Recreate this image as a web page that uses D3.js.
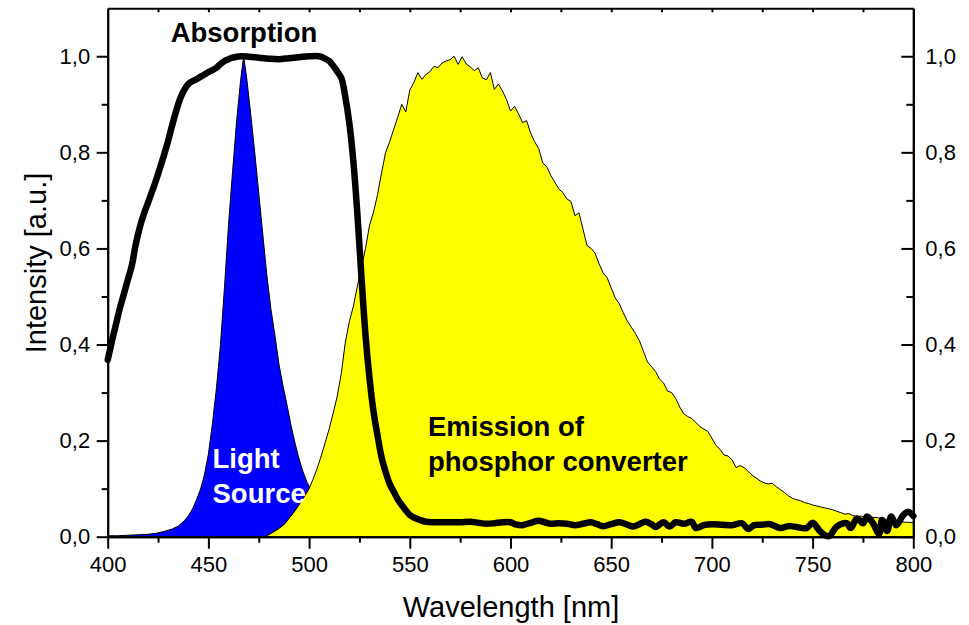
<!DOCTYPE html>
<html>
<head>
<meta charset="utf-8">
<script src="https://cdn.jsdelivr.net/npm/d3@7"></script>
<style>
  body { margin: 0; background: #fff; }
  svg { display: block; }
  text { font-family: "Liberation Sans", Arial, sans-serif; }
</style>
</head>
<body>
<svg id="chart" width="969" height="625"></svg>
<script>
// ---- Data -------------------------------------------------------------
const wavelengthTicks = [400, 450, 500, 550, 600, 650, 700, 750, 800];
const wavelengthMinor = [425, 475, 525, 575, 625, 675, 725, 775];
const topTicks = [425, 450, 475, 500, 525, 550, 575, 600, 625, 650, 675, 700, 725, 750, 775];
const intensityTicks = [0, 0.2, 0.4, 0.6, 0.8, 1.0];
const intensityMinor = [0.1, 0.3, 0.5, 0.7, 0.9];

// Blue LED light source
const sourceWl = [400, 405, 410, 415, 420, 424, 428, 432, 435, 438, 440, 442, 444, 446, 448, 450,
  452, 454, 456, 458, 460, 462, 464, 466, 467.5, 469, 471, 473, 475, 477, 479, 481, 483, 485, 487,
  489, 491, 493, 495, 497, 499, 501, 504, 508, 512, 516, 520, 530, 540, 560, 600, 700, 800];
const sourceVal = [0.002, 0.002, 0.003, 0.004, 0.005, 0.007, 0.011, 0.016, 0.022, 0.033, 0.043, 0.057,
  0.076, 0.098, 0.128, 0.172, 0.235, 0.31, 0.40, 0.52, 0.65, 0.76, 0.865, 0.95, 1.0, 0.955, 0.88,
  0.80, 0.715, 0.63, 0.545, 0.475, 0.42, 0.36, 0.315, 0.275, 0.232, 0.195, 0.162, 0.135, 0.113,
  0.097, 0.075, 0.055, 0.04, 0.03, 0.022, 0.012, 0.007, 0.003, 0.001, 0, 0];

// Phosphor converter emission
const emissionWl = [478, 480, 482, 484, 486, 488, 490, 492, 494, 496, 498, 500, 502, 504, 506, 508,
  510, 512, 514, 516, 518, 520, 522, 524, 526, 528, 530, 532, 534, 536, 538, 540, 542, 544, 546, 548,
  550, 552, 554, 556, 558, 560, 562, 564, 566, 568, 570, 572, 574, 576, 578, 580, 582, 584, 586, 588,
  590, 592, 594, 596, 598, 600, 602, 604, 606, 608, 610, 612, 614, 616, 618, 620, 622, 624, 626, 628,
  630, 632, 634, 636, 638, 640, 642, 644, 646, 648, 650, 652, 654, 656, 658, 660, 662, 664, 666, 668,
  670, 672, 674, 676, 678, 680, 682, 684, 686, 688, 690, 692, 694, 696, 698, 700, 702, 704, 706, 708,
  710, 712, 714, 716, 718, 720, 722, 724, 726, 728, 730, 732, 734, 736, 738, 740, 742, 744, 746, 748,
  750, 752, 754, 756, 758, 760, 762, 764, 766, 768, 770, 772, 774, 776, 778, 780, 782, 784, 786, 788,
  790, 792, 794, 796, 798, 800];
const emissionVal = [0.0, 0.004, 0.009, 0.014, 0.020, 0.027, 0.038, 0.048, 0.060, 0.073, 0.086, 0.100,
  0.120, 0.142, 0.168, 0.196, 0.225, 0.258, 0.293, 0.340, 0.405, 0.448, 0.480, 0.522, 0.560, 0.600,
  0.648, 0.676, 0.712, 0.758, 0.800, 0.822, 0.848, 0.873, 0.900, 0.884, 0.930, 0.945, 0.966, 0.952,
  0.962, 0.968, 0.979, 0.976, 0.986, 0.990, 0.993, 1.000, 0.983, 0.999, 0.984, 0.978, 0.970, 0.976,
  0.955, 0.951, 0.966, 0.931, 0.942, 0.928, 0.910, 0.886, 0.896, 0.880, 0.862, 0.866, 0.840, 0.822,
  0.808, 0.778, 0.770, 0.752, 0.738, 0.724, 0.716, 0.703, 0.698, 0.668, 0.674, 0.640, 0.606, 0.600,
  0.590, 0.568, 0.549, 0.539, 0.518, 0.497, 0.485, 0.466, 0.449, 0.436, 0.423, 0.408, 0.386, 0.364,
  0.354, 0.344, 0.328, 0.320, 0.303, 0.300, 0.288, 0.270, 0.256, 0.250, 0.246, 0.238, 0.229, 0.224,
  0.219, 0.205, 0.190, 0.182, 0.170, 0.168, 0.160, 0.144, 0.148, 0.144, 0.136, 0.128, 0.122, 0.116,
  0.112, 0.110, 0.111, 0.104, 0.098, 0.092, 0.085, 0.080, 0.077, 0.075, 0.071, 0.069, 0.066, 0.064,
  0.062, 0.060, 0.058, 0.056, 0.053, 0.050, 0.047, 0.048, 0.044, 0.042, 0.043, 0.041, 0.042, 0.040,
  0.040, 0.038, 0.036, 0.037, 0.033, 0.032, 0.031, 0.030, 0.030, 0.029];

// Absorption of the phosphor
const absorptionWl = [400, 402, 404, 406, 408, 410, 412, 414, 416, 418, 420, 422, 424, 426, 428, 430,
  432, 434, 436, 438, 440, 442, 444, 446, 448, 450, 452, 454, 456, 458, 460, 462, 464, 466, 470, 475,
  480, 485, 490, 495, 500, 505, 508, 510, 512, 514, 516, 518, 520, 522, 524, 526, 528, 530, 532, 534,
  536, 538, 540, 542, 544, 546, 548, 550, 552, 555, 558, 562, 566, 570, 575, 580, 584, 588, 592, 596,
  600, 603, 606, 610, 614, 617, 620, 624, 628, 632, 636, 640, 643, 646, 650, 654, 658, 661, 664, 667,
  670, 672, 676, 679, 682, 686, 690, 692, 696, 700, 705, 710, 715, 718, 721, 725, 729, 734, 738, 741,
  747, 750, 754, 758, 762, 767, 769, 772, 775, 777, 780, 783, 784.5, 787, 789, 791.5, 795, 797.5, 800];
const absorptionVal = [0.368, 0.405, 0.44, 0.475, 0.505, 0.535, 0.565, 0.61, 0.645, 0.672, 0.695, 0.718,
  0.742, 0.768, 0.795, 0.824, 0.856, 0.886, 0.912, 0.930, 0.942, 0.948, 0.952, 0.957, 0.962, 0.967,
  0.971, 0.976, 0.984, 0.990, 0.994, 0.997, 0.999, 1.0, 0.999, 0.997, 0.995, 0.994, 0.996, 0.998,
  1.0, 1.0, 0.995, 0.990, 0.980, 0.968, 0.955, 0.915, 0.86, 0.78, 0.67, 0.54, 0.42, 0.33, 0.26, 0.21,
  0.165, 0.135, 0.11, 0.094, 0.078, 0.066, 0.055, 0.045, 0.040, 0.035, 0.031, 0.030, 0.030, 0.030,
  0.030, 0.031, 0.029, 0.027, 0.028, 0.030, 0.030, 0.025, 0.024, 0.029, 0.033, 0.030, 0.027, 0.028,
  0.027, 0.024, 0.027, 0.030, 0.026, 0.022, 0.026, 0.030, 0.025, 0.021, 0.026, 0.031, 0.026, 0.020,
  0.030, 0.021, 0.030, 0.027, 0.031, 0.018, 0.024, 0.026, 0.025, 0.024, 0.028, 0.016, 0.024, 0.025,
  0.026, 0.018, 0.022, 0.021, 0.018, 0.029, 0.010, 0.001, 0.021, 0.028, 0.018, 0.038, 0.028, 0.042,
  0.028, 0.006, 0.035, 0.012, 0.042, 0.024, 0.045, 0.052, 0.043];

// ---- Layout -----------------------------------------------------------
const svg = d3.select("#chart");
const x = d3.scaleLinear().domain([400, 800]).range([107.7, 913.3]);
const y = d3.scaleLinear().domain([0, 1.1]).range([536.7, 8.2]);
const commaFmt = d3.formatLocale({ decimal: ",", thousands: ".", grouping: [3], currency: ["", ""] }).format(".1f");

const zip = (a, b) => a.map((v, i) => [v, b[i]]);
const source = zip(sourceWl, sourceVal);
const emission = zip(emissionWl, emissionVal);
const absorption = zip(absorptionWl, absorptionVal);

svg.append("defs").append("clipPath").attr("id", "plot")
  .append("rect").attr("x", x(400)).attr("y", y(1.1)).attr("width", x(800) - x(400)).attr("height", y(0) - y(1.1));

const area = d3.area().x(d => x(d[0])).y0(y(0)).y1(d => y(d[1]));
const line = d3.line().x(d => x(d[0])).y(d => y(d[1]));

const plot = svg.append("g").attr("clip-path", "url(#plot)");

// light source (blue) then emission (yellow) on top
plot.append("path").datum(source).attr("d", area).attr("fill", "#0000ff");
plot.append("path").datum(source).attr("d", line).attr("fill", "none").attr("stroke", "#000").attr("stroke-width", 1);
plot.append("path").datum(emission).attr("d", area).attr("fill", "#ffff00");
plot.append("path").datum(emission).attr("d", line).attr("fill", "none").attr("stroke", "#000").attr("stroke-width", 1);

// ---- Axes -------------------------------------------------------------
function styleAxis(g) {
  g.select(".domain").attr("stroke-width", 2);
  g.selectAll(".tick line").attr("stroke-width", 2);
  g.selectAll(".tick text").attr("font-size", 22).attr("fill", "#000")
    .attr("font-family", '"Liberation Sans", Arial, sans-serif');
}

svg.append("g").attr("transform", `translate(0,${y(0)})`)
  .call(d3.axisBottom(x).tickValues(wavelengthTicks).tickSize(12).tickSizeOuter(0).tickPadding(8).tickFormat(d3.format("d")))
  .call(styleAxis);
svg.append("g").attr("transform", `translate(0,${y(0)})`)
  .call(d3.axisBottom(x).tickValues(wavelengthMinor).tickSize(6).tickSizeOuter(0).tickFormat(""))
  .call(styleAxis);
svg.append("g").attr("transform", `translate(0,${y(1.1)})`)
  .call(d3.axisTop(x).tickValues(topTicks).tickSize(-4).tickSizeOuter(0).tickFormat(""))
  .call(styleAxis);

svg.append("g").attr("transform", `translate(${x(400)},0)`)
  .call(d3.axisLeft(y).tickValues(intensityTicks).tickSize(11).tickSizeOuter(0).tickPadding(6.5).tickFormat(commaFmt))
  .call(styleAxis);
svg.append("g").attr("transform", `translate(${x(400)},0)`)
  .call(d3.axisLeft(y).tickValues(intensityMinor).tickSize(6).tickSizeOuter(0).tickFormat(""))
  .call(styleAxis);

svg.append("g").attr("transform", `translate(${x(800)},0)`)
  .call(d3.axisRight(y).tickValues(intensityTicks).tickSize(-12).tickSizeOuter(0).tickPadding(12).tickFormat(commaFmt))
  .call(styleAxis);
svg.append("g").attr("transform", `translate(${x(800)},0)`)
  .call(d3.axisRight(y).tickValues(intensityMinor).tickSize(-7).tickSizeOuter(0).tickFormat(""))
  .call(styleAxis);

// absorption curve, thick black line over everything
svg.append("path").datum(absorption).attr("d", line.curve(d3.curveCatmullRom))
  .attr("fill", "none").attr("stroke", "#000").attr("stroke-width", 6.5)
  .attr("stroke-linejoin", "round").attr("stroke-linecap", "round");

// ---- Titles and labels ------------------------------------------------
svg.append("text").attr("x", 511).attr("y", 617)
  .attr("text-anchor", "middle").attr("font-size", 29).text("Wavelength [nm]");
svg.append("text").attr("transform", `translate(46,${263}) rotate(-90)`)
  .attr("text-anchor", "middle").attr("font-size", 29).text("Intensity [a.u.]");

svg.append("text").attr("x", 244).attr("y", 41.5).attr("text-anchor", "middle")
  .attr("font-size", 27.5).attr("font-weight", "bold").text("Absorption");

const lightLabel = svg.append("text").attr("font-size", 27.5).attr("font-weight", "bold").attr("fill", "#fff");
lightLabel.append("tspan").attr("x", 212.5).attr("y", 467.5).text("Light");
lightLabel.append("tspan").attr("x", 212.5).attr("y", 502.5).text("Source");

const emLabel = svg.append("text").attr("font-size", 27.5).attr("font-weight", "bold").attr("fill", "#000");
emLabel.append("tspan").attr("x", 428).attr("y", 436).text("Emission of");
emLabel.append("tspan").attr("x", 428).attr("y", 471).text("phosphor converter");
</script>
</body>
</html>
